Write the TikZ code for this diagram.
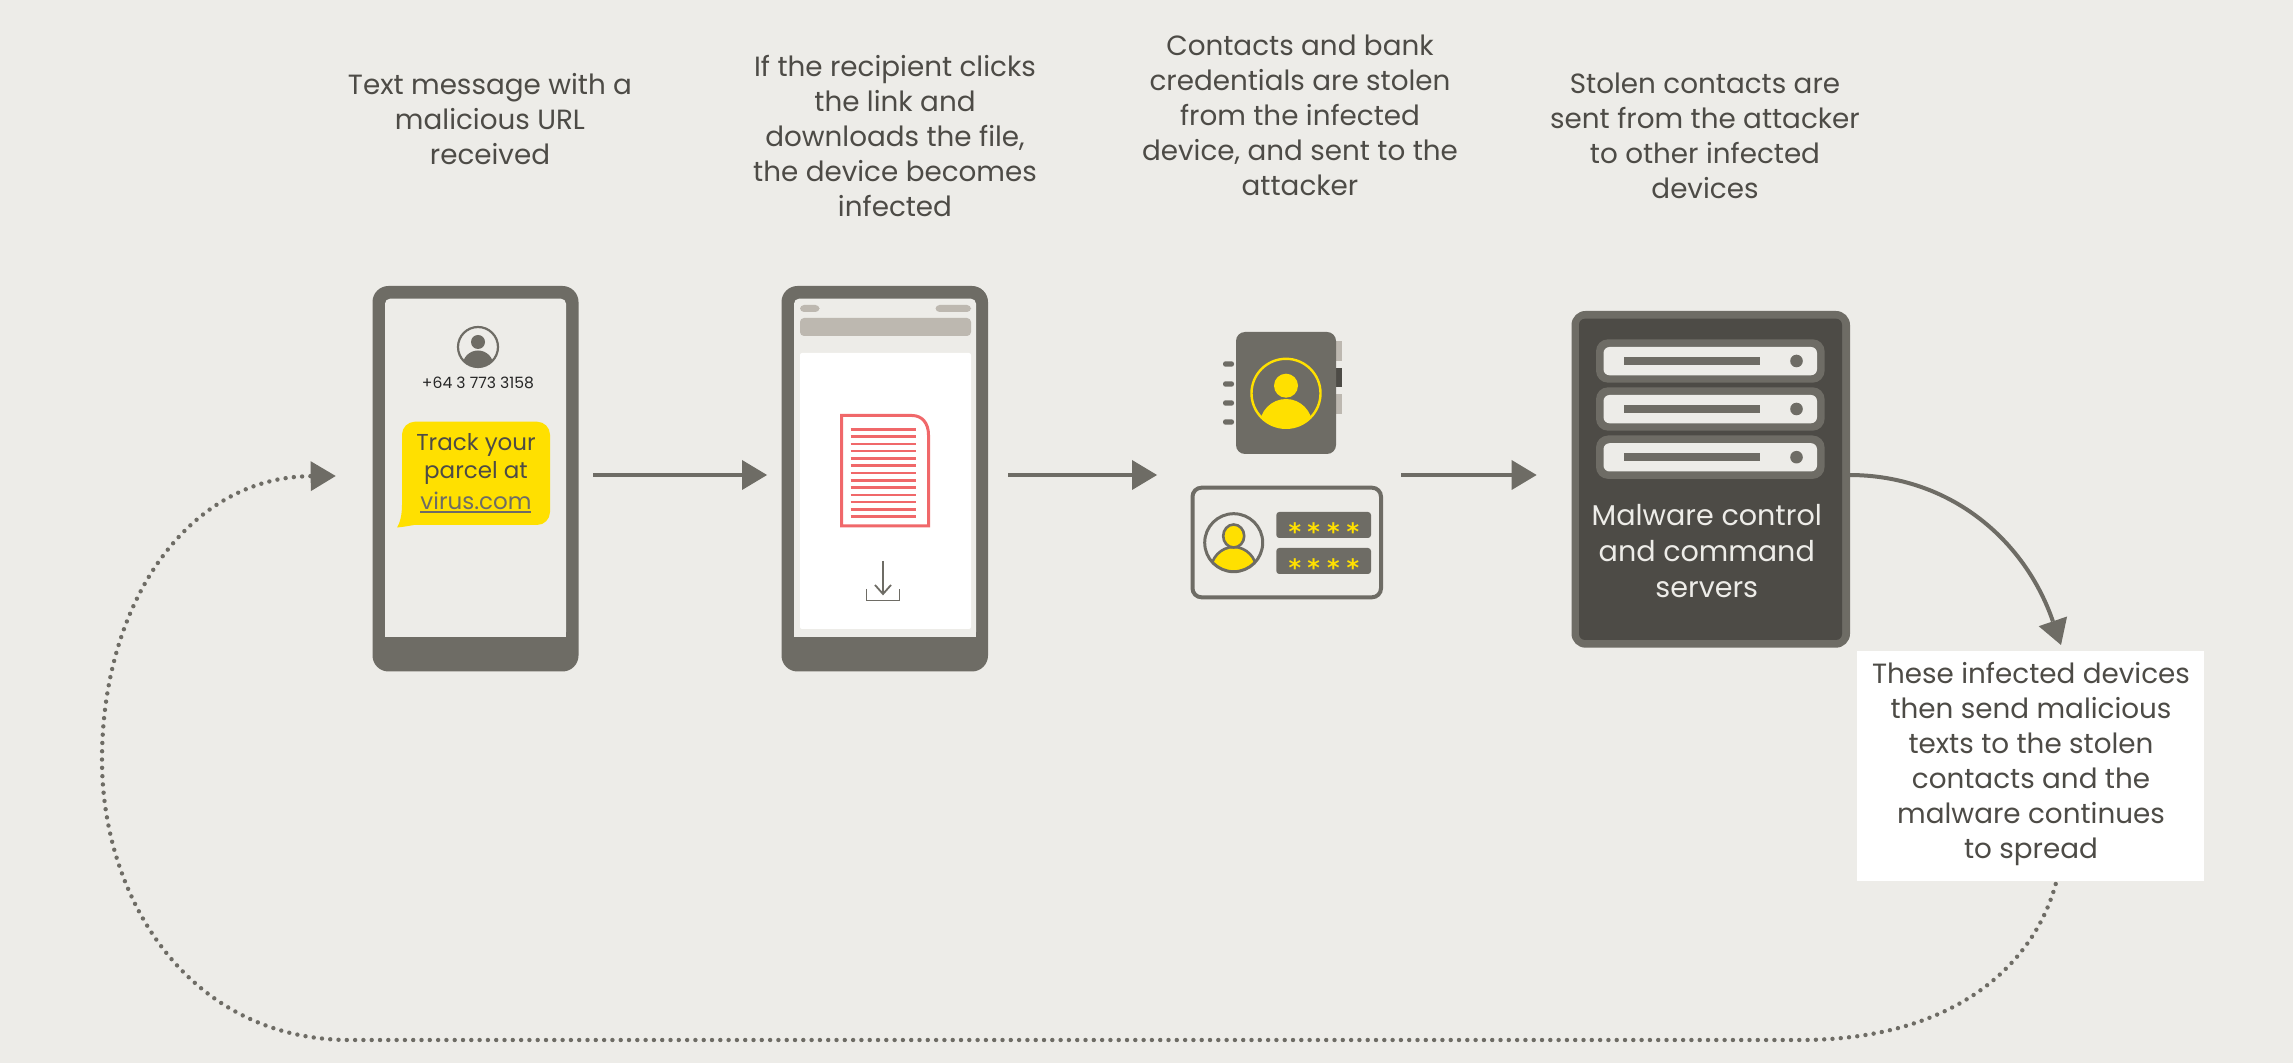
\documentclass[tikz,border=0pt]{standalone}
\usepackage{fontspec}
\setmainfont{Poppins}
\newfontfamily\starfont{DejaVu Sans}[BoldFont=* Bold]
\usetikzlibrary{arrows.meta}
\definecolor{bgc}{HTML}{EDECE8}
\definecolor{grayc}{HTML}{6E6C65}
\definecolor{darkc}{HTML}{4D4B46}
\definecolor{pillc}{HTML}{BDB8B0}
\definecolor{yelc}{HTML}{FFE000}
\definecolor{redc}{HTML}{F0686A}
\definecolor{txtc}{HTML}{4D4B46}
\newcommand{\bx}[6]{\node[#1,inner sep=0pt,outer sep=0pt,minimum width={((#4)-(#2))*0.5pt},minimum height={((#5)-(#3))*0.5pt}] (#6) at ({((#2)+(#4))/2},{((#3)+(#5))/2}) {};}
\tikzset{
  lbl/.style={text=txtc,align=center,font=\fontsize{13.9}{17.5}\selectfont,inner sep=0pt},
  whitelbl/.style={text=bgc,align=center,font=\fontsize{14.3}{18}\selectfont,inner sep=0pt},
  flow/.style={draw=grayc,line width=2.25pt,-{Triangle[length=12.5pt,width=15pt,line width=0pt]}},
  loopline/.style={draw=grayc,line width=2.2pt,line cap=round,dash pattern=on 0pt off 4.15pt,-{Triangle[length=12.5pt,width=15pt,line width=0pt]}},
  body/.style={fill=grayc,rounded corners=8pt},
  pill/.style={fill=pillc,rounded corners=2pt},
  unitouter/.style={fill=grayc,rounded corners=6pt},
  unitinner/.style={fill=bgc,rounded corners=3pt},
  starmark/.style={text=yelc,inner sep=0pt,font=\starfont\bfseries\fontsize{12}{12}\selectfont},
}
\begin{document}
\begin{tikzpicture}[x=0.5pt,y=-0.5pt]
\fill[bgc] (0,0) rectangle (2293,1063);
\useasboundingbox (0,0) rectangle (2293,1063);
% captions
\node[lbl] (cap1) at (490,119) {Text message with a\\malicious URL\\received};
\node[lbl] (cap2) at (895,136) {If the recipient clicks\\the link and\\downloads the file,\\the device becomes\\infected};
\node[lbl] (cap3) at (1300,115.5) {Contacts and bank\\credentials are stolen\\from the infected\\device, and sent to the\\attacker};
\node[lbl] (cap4) at (1705,136) {Stolen contacts are\\sent from the attacker\\to other infected\\devices};
% phone 1
\bx{body}{372.5}{286}{578.5}{671.5}{phoneA}
\fill[bgc,rounded corners=2.5pt] (385,637) -- (385,298.7) -- (566,298.7) -- (566,637) [sharp corners] -- cycle;
\fill[bgc] (385,625) rectangle (566,637);
\begin{scope}
\clip (478,347) circle[radius=20];
\fill[grayc] (478,342) circle[radius=7];
\fill[grayc] (478,366) circle[x radius=15.5,y radius=15.5];
\end{scope}
\draw[grayc,line width=1.1pt] (478,347) circle[radius=20];
\node[text=black!85,inner sep=0pt,font=\fontsize{7.8}{8}\selectfont] (phonenum) at (478,382.5) {+64 3 773 3158};
\fill[yelc] (402,505) .. controls (402,515) and (400,523) .. (397,527.5) .. controls (403,527) and (408,526) .. (414,525) -- (420,525) -- (420,505) -- cycle;
\bx{fill=yelc,rounded corners=6.5pt}{402}{421.7}{550}{525}{bubble}
\node[text=txtc,align=center,inner sep=0pt,font=\fontsize{11.5}{14.2}\selectfont] (bubbletxt) at (476,459) {Track your\\parcel at};
\node[text=grayc,inner sep=0pt,font=\fontsize{11.5}{14.2}\selectfont] (virus) at (476,500.5) {virus.com};
\draw[grayc,line width=0.8pt] (420,511.8) -- (531,511.8);
% phone 2
\bx{body}{781.5}{286}{988}{671.5}{phoneB}
\fill[bgc,rounded corners=2.5pt] (794,637) -- (794,298.7) -- (976,298.7) -- (976,637) [sharp corners] -- cycle;
\fill[bgc] (794,625) rectangle (976,637);
\bx{pill}{800}{305}{819.5}{312}{pillL}
\bx{pill}{935.5}{305}{971}{312}{pillR}
\bx{pill}{800}{318}{971}{336}{pillW}
\bx{fill=white,rounded corners=1pt}{800}{353}{971}{629}{page}
\draw[redc,line width=1.5pt] (841.5,525.8) -- (841.5,415.5) -- (912,415.5) .. controls (922,415.5) and (928.5,423) .. (928.5,435) -- (928.5,525.8) -- cycle;
\foreach \i in {0,...,12} \draw[redc,line width=1.3pt] (850.7,429.3+7.28*\i) -- (916,429.3+7.28*\i);
\draw[grayc,line width=0.9pt] (883,561) -- (883,594);
\draw[grayc,line width=0.9pt] (875,585) -- (883,594) -- (891,585);
\draw[grayc,line width=0.9pt] (866.5,589) -- (866.5,600.5) -- (899.5,600.5) -- (899.5,589);
% address book
\bx{fill=pillc}{1336}{341}{1341.5}{361}{tabA}
\bx{fill=darkc}{1336}{368}{1341.5}{387}{tabB}
\bx{fill=pillc}{1336}{394}{1341.5}{414}{tabC}
\bx{fill=grayc,rounded corners=4.5pt}{1236}{332}{1336}{454}{book}
\foreach \y in {364,384,403,422} \fill[grayc,rounded corners=1.2pt] (1223,\y-2.7) rectangle (1234,\y+2.7);
\begin{scope}
\clip (1286,393.3) circle[radius=35];
\fill[yelc] (1286,385.7) circle[radius=12];
\fill[yelc] (1286,426) circle[x radius=26.5,y radius=27];
\end{scope}
\draw[yelc,line width=1.2pt] (1286,393.3) circle[radius=34.5];
% id card
\bx{draw=grayc,line width=2pt,rounded corners=4.5pt}{1192.5}{487.7}{1381}{597.3}{card}
\begin{scope}
\clip (1233.7,542.7) circle[radius=29];
\fill[yelc,draw=grayc,line width=1.3pt] (1233.7,571) circle[x radius=23,y radius=24];
\end{scope}
\fill[yelc,draw=grayc,line width=1.3pt] (1233.7,536) circle[x radius=10.5,y radius=11.5];
\draw[grayc,line width=1.5pt] (1233.7,542.7) circle[radius=29];
\bx{fill=grayc,rounded corners=1.5pt}{1276.3}{512}{1371}{538}{pwA}
\bx{fill=grayc,rounded corners=1.5pt}{1276.3}{548}{1371}{574}{pwB}
\foreach \x/\n in {1294.8/a,1313.7/b,1333.5/c,1353/d} {
  \node[starmark] (sa\n) at (\x,531.5) {*};
  \node[starmark] (sb\n) at (\x,567.5) {*};
}
% server
\bx{fill=grayc,rounded corners=7pt}{1571.5}{311}{1850}{647.7}{server}
\bx{fill=darkc,rounded corners=3pt}{1579}{318.7}{1842}{640}{serverin}
\foreach \a/\n in {339.3/a,387.3/b,435.5/c} {
  \bx{unitouter}{1596}{\a}{1824.6}{\a+43.4}{u\n}
  \bx{unitinner}{1603.5}{\a+7.7}{1817}{\a+36}{v\n}
  \fill[grayc] (1624,\a+17.7) rectangle (1760,\a+25.7);
  \fill[grayc] (1796.5,\a+21.7) circle[radius=6.3];
}
\node[whitelbl] (srvtxt) at (1706.8,551) {Malware control\\and command\\servers};
% spread box
\node[fill=white,inner sep=0pt,minimum width=173.5pt,minimum height=115.25pt] (spread) at (2030.5,766.2) {};
\node[lbl] (spreadtxt) at (2031,764) {These infected devices\\then send malicious\\texts to the stolen\\contacts and the\\malware continues\\to spread};
% connectors
\coordinate (a1s) at (593,475); \coordinate (a1e) at (767,475);
\coordinate (a2s) at (1008,475); \coordinate (a2e) at (1157,475);
\coordinate (a3s) at (1401.4,475); \coordinate (a3e) at (1536.6,475);
\coordinate (c1s) at (1849,475); \coordinate (c1e) at (2061,645);
\coordinate (d1s) at (2055.7,884); \coordinate (d1e) at (335.7,476);
\draw[flow] (a1s) -- (a1e);
\draw[flow] (a2s) -- (a2e);
\draw[flow] (a3s) -- (a3e);
\draw[flow,line width=2pt] (c1s) .. controls (1950,475) and (2025,540) .. (c1e);
\draw[loopline] (d1s) .. controls (2035,960) and (1960,1040) .. (1800,1040) -- (350,1040) .. controls (190,1040) and (102,900) .. (102,760) .. controls (102,600) and (190,477) .. (d1e);
\end{tikzpicture}
\end{document}
